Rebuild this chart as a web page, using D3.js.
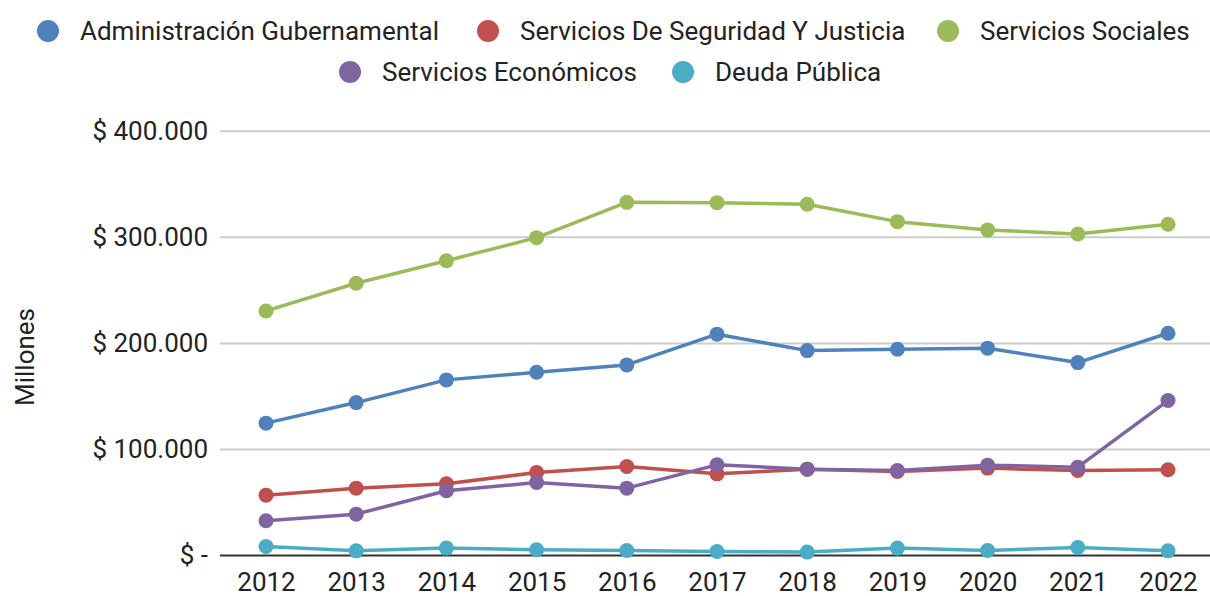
<!DOCTYPE html>
<html>
<head>
<meta charset="utf-8">
<script src="https://cdn.jsdelivr.net/npm/d3@7"></script>
<style>
  body { margin: 0; background: #fff; }
  svg { display: block; font-family: Roboto, "Noto Sans", sans-serif; }
</style>
</head>
<body>
<svg width="1210" height="596"></svg>
<script>
const years = ["2012", "2013", "2014", "2015", "2016", "2017", "2018", "2019", "2020", "2021", "2022"];
const seriesNames = ["Administración Gubernamental", "Servicios De Seguridad Y Justicia", "Servicios Sociales", "Servicios Económicos", "Deuda Pública"];
const administracion = [124800, 144200, 165600, 172800, 179700, 208700, 193200, 194500, 195500, 181900, 209600];
const seguridad = [56900, 63500, 67600, 78200, 83900, 77000, 81400, 79200, 82400, 80100, 80800];
const sociales = [230600, 256700, 278000, 299700, 333000, 332700, 331200, 314800, 307000, 303200, 312300];
const economicos = [32700, 39000, 61000, 68800, 63500, 85500, 81400, 80100, 85200, 83300, 146100];
const deuda = [8500, 4400, 7000, 5400, 4700, 3800, 3200, 7000, 4700, 7500, 4400];
const yTicks = [0, 100000, 200000, 300000, 400000];
const colors = ["#4f81bd", "#c0504d", "#9bbb59", "#8064a2", "#4bacc6"];

const allSeries = [administracion, seguridad, sociales, economicos, deuda];
const svg = d3.select("svg");

const xScale = d3.scalePoint().domain(years).range([266, 1168]);
const yScale = d3.scaleLinear().domain([0, 400000]).range([555.5, 131.3]);

const locale = d3.formatLocale({decimal: ",", thousands: ".", grouping: [3], currency: ["$", ""]});
const fmt = locale.format(",.0f");
const tickLabel = d => d === 0 ? "$ -" : "$ " + fmt(d);

// grid lines
svg.append("g")
  .selectAll("line")
  .data(yTicks.filter(d => d > 0))
  .enter()
  .append("line")
  .attr("x1", 220)
  .attr("x2", 1210)
  .attr("y1", d => yScale(d))
  .attr("y2", d => yScale(d))
  .attr("stroke", "#cccccc")
  .attr("stroke-width", 2);

// y axis labels
const yAxis = d3.axisLeft(yScale).tickValues(yTicks).tickFormat(tickLabel).tickSize(0).tickPadding(12);
svg.append("g")
  .attr("id", "yAxisG")
  .attr("transform", "translate(220, 0)")
  .call(yAxis)
  .call(g => g.select(".domain").remove())
  .selectAll("text")
  .attr("font-size", 26)
  .attr("font-family", "Roboto")
  .attr("fill", "#222");

// baseline
svg.append("line")
  .attr("x1", 220)
  .attr("x2", 1210)
  .attr("y1", yScale(0))
  .attr("y2", yScale(0))
  .attr("stroke", "#333")
  .attr("stroke-width", 2);

// x axis labels
const xAxis = d3.axisBottom(xScale).tickSize(0).tickPadding(17);
svg.append("g")
  .attr("id", "xAxisG")
  .attr("transform", `translate(0, ${yScale(0)})`)
  .call(xAxis)
  .call(g => g.select(".domain").remove())
  .selectAll("text")
  .attr("font-size", 26)
  .attr("font-family", "Roboto")
  .attr("fill", "#222");

// y title
svg.append("text")
  .attr("transform", "translate(34, 357) rotate(-90)")
  .attr("text-anchor", "middle")
  .attr("font-size", 26)
  .attr("fill", "#222")
  .text("Millones");

// lines and points
const line = d3.line()
  .x((d, i) => xScale(years[i]))
  .y(d => yScale(d));

allSeries.forEach((vals, s) => {
  const g = svg.append("g");
  g.append("path")
    .attr("d", line(vals))
    .attr("fill", "none")
    .attr("stroke", colors[s])
    .attr("stroke-width", 3.5)
    .attr("stroke-linejoin", "round");
  g.selectAll("circle")
    .data(vals)
    .enter()
    .append("circle")
    .attr("cx", (d, i) => xScale(years[i]))
    .attr("cy", d => yScale(d))
    .attr("r", 7.5)
    .attr("fill", colors[s]);
});

// legend
const legendPos = [[48, 31], [488, 31], [948, 31], [350, 72], [683, 72]];
const legend = svg.append("g")
  .selectAll("g")
  .data(seriesNames)
  .enter()
  .append("g")
  .attr("transform", (d, i) => `translate(${legendPos[i][0]}, ${legendPos[i][1]})`);
legend.append("circle")
  .attr("r", 11)
  .attr("fill", (d, i) => colors[i]);
legend.append("text")
  .attr("x", 32)
  .attr("y", 9)
  .attr("font-size", 26)
  .attr("fill", "#222")
  .text(d => d);
</script>
</body>
</html>
